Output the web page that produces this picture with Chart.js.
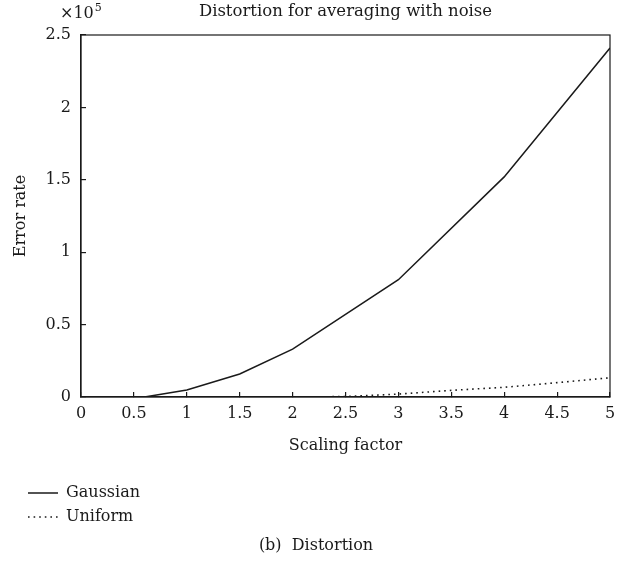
<!DOCTYPE html>
<html lang="en">
<head>
    <meta charset="UTF-8">
    <title>Distortion for averaging with noise</title>
    <script src="https://cdn.jsdelivr.net/npm/chart.js"></script>
    <style>
        body {
            margin: 0;
            background: #ffffff;
        }
        .chart-container {
            position: relative;
            width: 633px;
            height: 571px;
        }
    </style>
</head>
<body>

    <div class="chart-container">
        <canvas id="distortionChart" width="633" height="571"></canvas>
    </div>

    <script>
        // values (error rate, raw units)
        const gaussianX = [0.1, 0.6, 1, 1.5, 2, 3, 4, 5];
        const gaussianY = [0, 0, 4800, 15900, 33000, 81000, 152000, 241000];
        const uniformX = [0.1, 2, 2.5, 3, 3.5, 4, 4.5, 5];
        const uniformY = [0, 0, 300, 2000, 4600, 6700, 9900, 13300];
        const seriesLabels = ['Gaussian', 'Uniform'];
        const chartTitle = 'Distortion for averaging with noise';
        const xTitle = 'Scaling factor';
        const yTitle = 'Error rate';
        const caption = '(b)  Distortion';

        const FONT = "'DejaVu Serif', 'Liberation Serif', serif";
        const INK = '#1a1a1a';
        const SIZE = 16;

        const toPoints = (xs, ys) => xs.map((x, i) => ({ x: x, y: ys[i] }));

        // title, x10^5 marker, box, legend and caption
        const decorations = {
            id: 'decorations',
            afterDraw(chart) {
                const ctx = chart.ctx;
                const area = chart.chartArea;
                ctx.save();

                // frame round the plot
                ctx.strokeStyle = INK;
                ctx.lineWidth = 1.2;
                ctx.strokeRect(area.left, area.top, area.right - area.left, area.bottom - area.top);

                ctx.fillStyle = INK;
                ctx.textBaseline = 'middle';

                // title
                ctx.font = '16.5px ' + FONT;
                ctx.textAlign = 'center';
                ctx.fillText(chartTitle, (area.left + area.right) / 2, 12);

                // exponent marker
                ctx.font = SIZE + 'px ' + FONT;
                ctx.textAlign = 'left';
                ctx.fillText('\u00d710', 60, 14);
                const w = ctx.measureText('\u00d710').width;
                ctx.font = '11px ' + FONT;
                ctx.fillText('5', 60 + w + 1, 8);

                // legend, stacked
                ctx.font = SIZE + 'px ' + FONT;
                chart.data.datasets.forEach((ds, i) => {
                    const y = 493 + i * 24;
                    ctx.beginPath();
                    ctx.setLineDash(ds.borderDash || []);
                    ctx.lineWidth = ds.borderWidth;
                    ctx.strokeStyle = ds.borderColor;
                    ctx.moveTo(28, y);
                    ctx.lineTo(58, y);
                    ctx.stroke();
                    ctx.setLineDash([]);
                    ctx.fillText(ds.label, 66, y);
                });

                // caption
                ctx.textAlign = 'center';
                ctx.fillText(caption, 316, 546);
                ctx.restore();
            }
        };

        const ctx = document.getElementById('distortionChart').getContext('2d');
        new Chart(ctx, {
            type: 'line',
            data: {
                datasets: [{
                    label: seriesLabels[0],
                    data: toPoints(gaussianX, gaussianY),
                    borderColor: INK,
                    borderWidth: 1.5,
                    pointRadius: 0,
                    tension: 0
                }, {
                    label: seriesLabels[1],
                    data: toPoints(uniformX, uniformY),
                    borderColor: INK,
                    borderWidth: 1.6,
                    borderDash: [1.6, 4],
                    pointRadius: 0,
                    tension: 0
                }]
            },
            options: {
                responsive: false,
                animation: false,
                layout: {
                    padding: { top: 35, right: 23, bottom: 109, left: 0 }
                },
                plugins: {
                    legend: { display: false },
                    title: { display: false },
                    tooltip: { enabled: false }
                },
                scales: {
                    x: {
                        type: 'linear',
                        min: 0,
                        max: 5,
                        afterFit: s => { s.height = 65; },
                        border: { color: INK, width: 1.2 },
                        grid: {
                            drawOnChartArea: false,
                            color: INK,
                            tickLength: -5,
                            lineWidth: 1.2
                        },
                        ticks: {
                            stepSize: 0.5,
                            padding: 12,
                            color: INK,
                            maxRotation: 0,
                            font: { family: FONT, size: SIZE },
                            callback: v => String(v)
                        },
                        title: {
                            display: true,
                            text: xTitle,
                            color: INK,
                            padding: { top: 0, bottom: 7 },
                            font: { family: FONT, size: SIZE }
                        }
                    },
                    y: {
                        min: 0,
                        max: 250000,
                        afterFit: s => { s.width = 81; },
                        border: { color: INK, width: 1.2 },
                        grid: {
                            drawOnChartArea: false,
                            color: INK,
                            tickLength: -5,
                            lineWidth: 1.2
                        },
                        ticks: {
                            stepSize: 50000,
                            padding: 15,
                            color: INK,
                            font: { family: FONT, size: SIZE },
                            callback: v => String(v / 100000)
                        },
                        title: {
                            display: true,
                            text: yTitle,
                            color: INK,
                            padding: { top: 11, bottom: 0 },
                            font: { family: FONT, size: SIZE }
                        }
                    }
                }
            },
            plugins: [decorations]
        });
    </script>

</body>
</html>
